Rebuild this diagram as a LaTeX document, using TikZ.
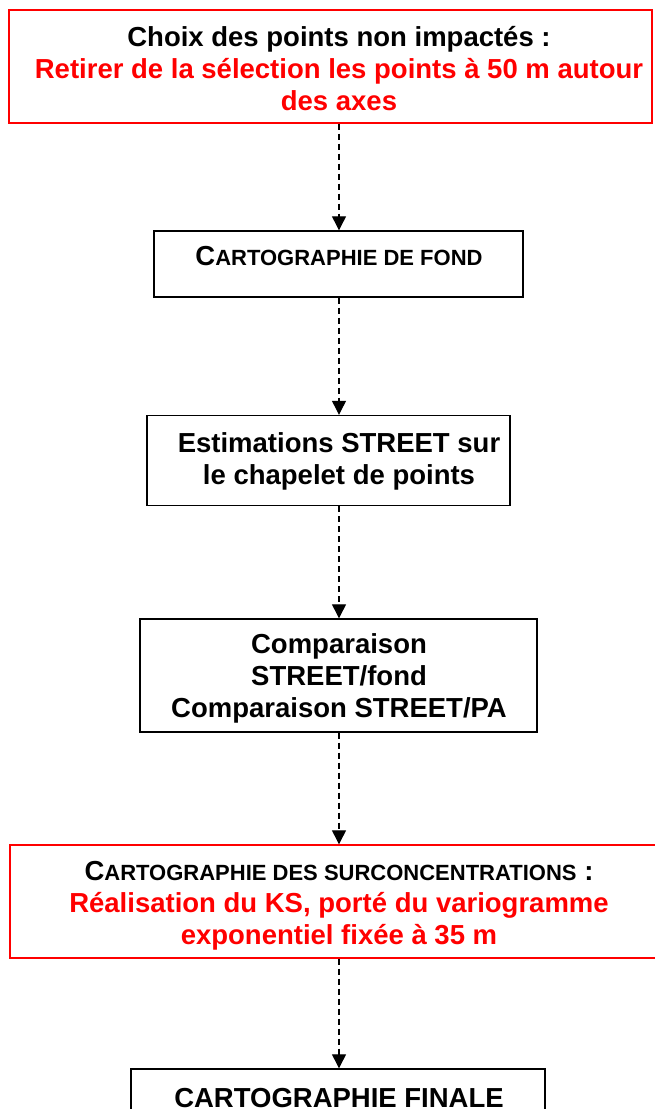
\documentclass[tikz,border=0pt]{standalone}
\usepackage{fontspec}
\setmainfont{Liberation Sans}
\usetikzlibrary{arrows.meta}
\newcommand{\mysmc}[1]{{\fontsize{22}{32}\selectfont #1}}
\begin{document}
\begin{tikzpicture}[x=1pt,y=-1pt,
 box/.style={draw=black,line width=1.4pt,inner sep=0pt},
 redbox/.style={draw=red,line width=1.4pt,inner sep=0pt},
 txt/.style={align=center,font=\bfseries\fontsize{27.5}{32}\selectfont,anchor=base,inner sep=0pt},
 flow/.style={line width=1.2pt,dash pattern=on 6pt off 4pt,-{Triangle[width=14pt,length=14pt]}}]
\clip (0,0) rectangle (655,1109);
\useasboundingbox (0,0) rectangle (655,1109);
\fill[white] (0,0) rectangle (655,1109);
\node[redbox,minimum width=643pt,minimum height=113pt] (b1) at (330.5,66.5) {};
\node[box,minimum width=369pt,minimum height=66pt] (b2) at (338.5,264) {};
\node[box,minimum width=363pt,minimum height=90pt] (b3) at (328.5,460.5) {};
\node[box,minimum width=397pt,minimum height=113pt] (b4) at (338.5,675.5) {};
\node[redbox,minimum width=646pt,minimum height=113pt] (b5) at (333,901.5) {};
\node[box,minimum width=414pt,minimum height=71pt] (b6) at (338,1104.5) {};
\node[txt] (t1) at (339,110) {Choix des points non impactés :\\\textcolor{red}{Retirer de la sélection les points à 50 m autour}\\\textcolor{red}{des axes}};
\node[txt] (t2) at (339,265) {C\mysmc{ARTOGRAPHIE DE FOND}};
\node[txt] (t3) at (339,484) {Estimations STREET sur\\le chapelet de points};
\node[txt] (t4) at (339,717) {Comparaison\\STREET/fond\\Comparaison STREET/PA};
\node[txt] (t5) at (339,944) {C\mysmc{ARTOGRAPHIE DES SURCONCENTRATIONS} :\\\textcolor{red}{Réalisation du KS, porté du variogramme}\\\textcolor{red}{exponentiel fixée à 35 m}};
\node[txt] (t6) at (339,1107) {CARTOGRAPHIE FINALE};
\coordinate (ax) at (339,0);
\draw[flow] (b1.south -| ax) -- (b2.north -| ax);
\draw[flow] (b2.south -| ax) -- (b3.north -| ax);
\draw[flow] (b3.south -| ax) -- (b4.north -| ax);
\draw[flow] (b4.south -| ax) -- (b5.north -| ax);
\draw[flow] (b5.south -| ax) -- (b6.north -| ax);
\end{tikzpicture}
\end{document}
